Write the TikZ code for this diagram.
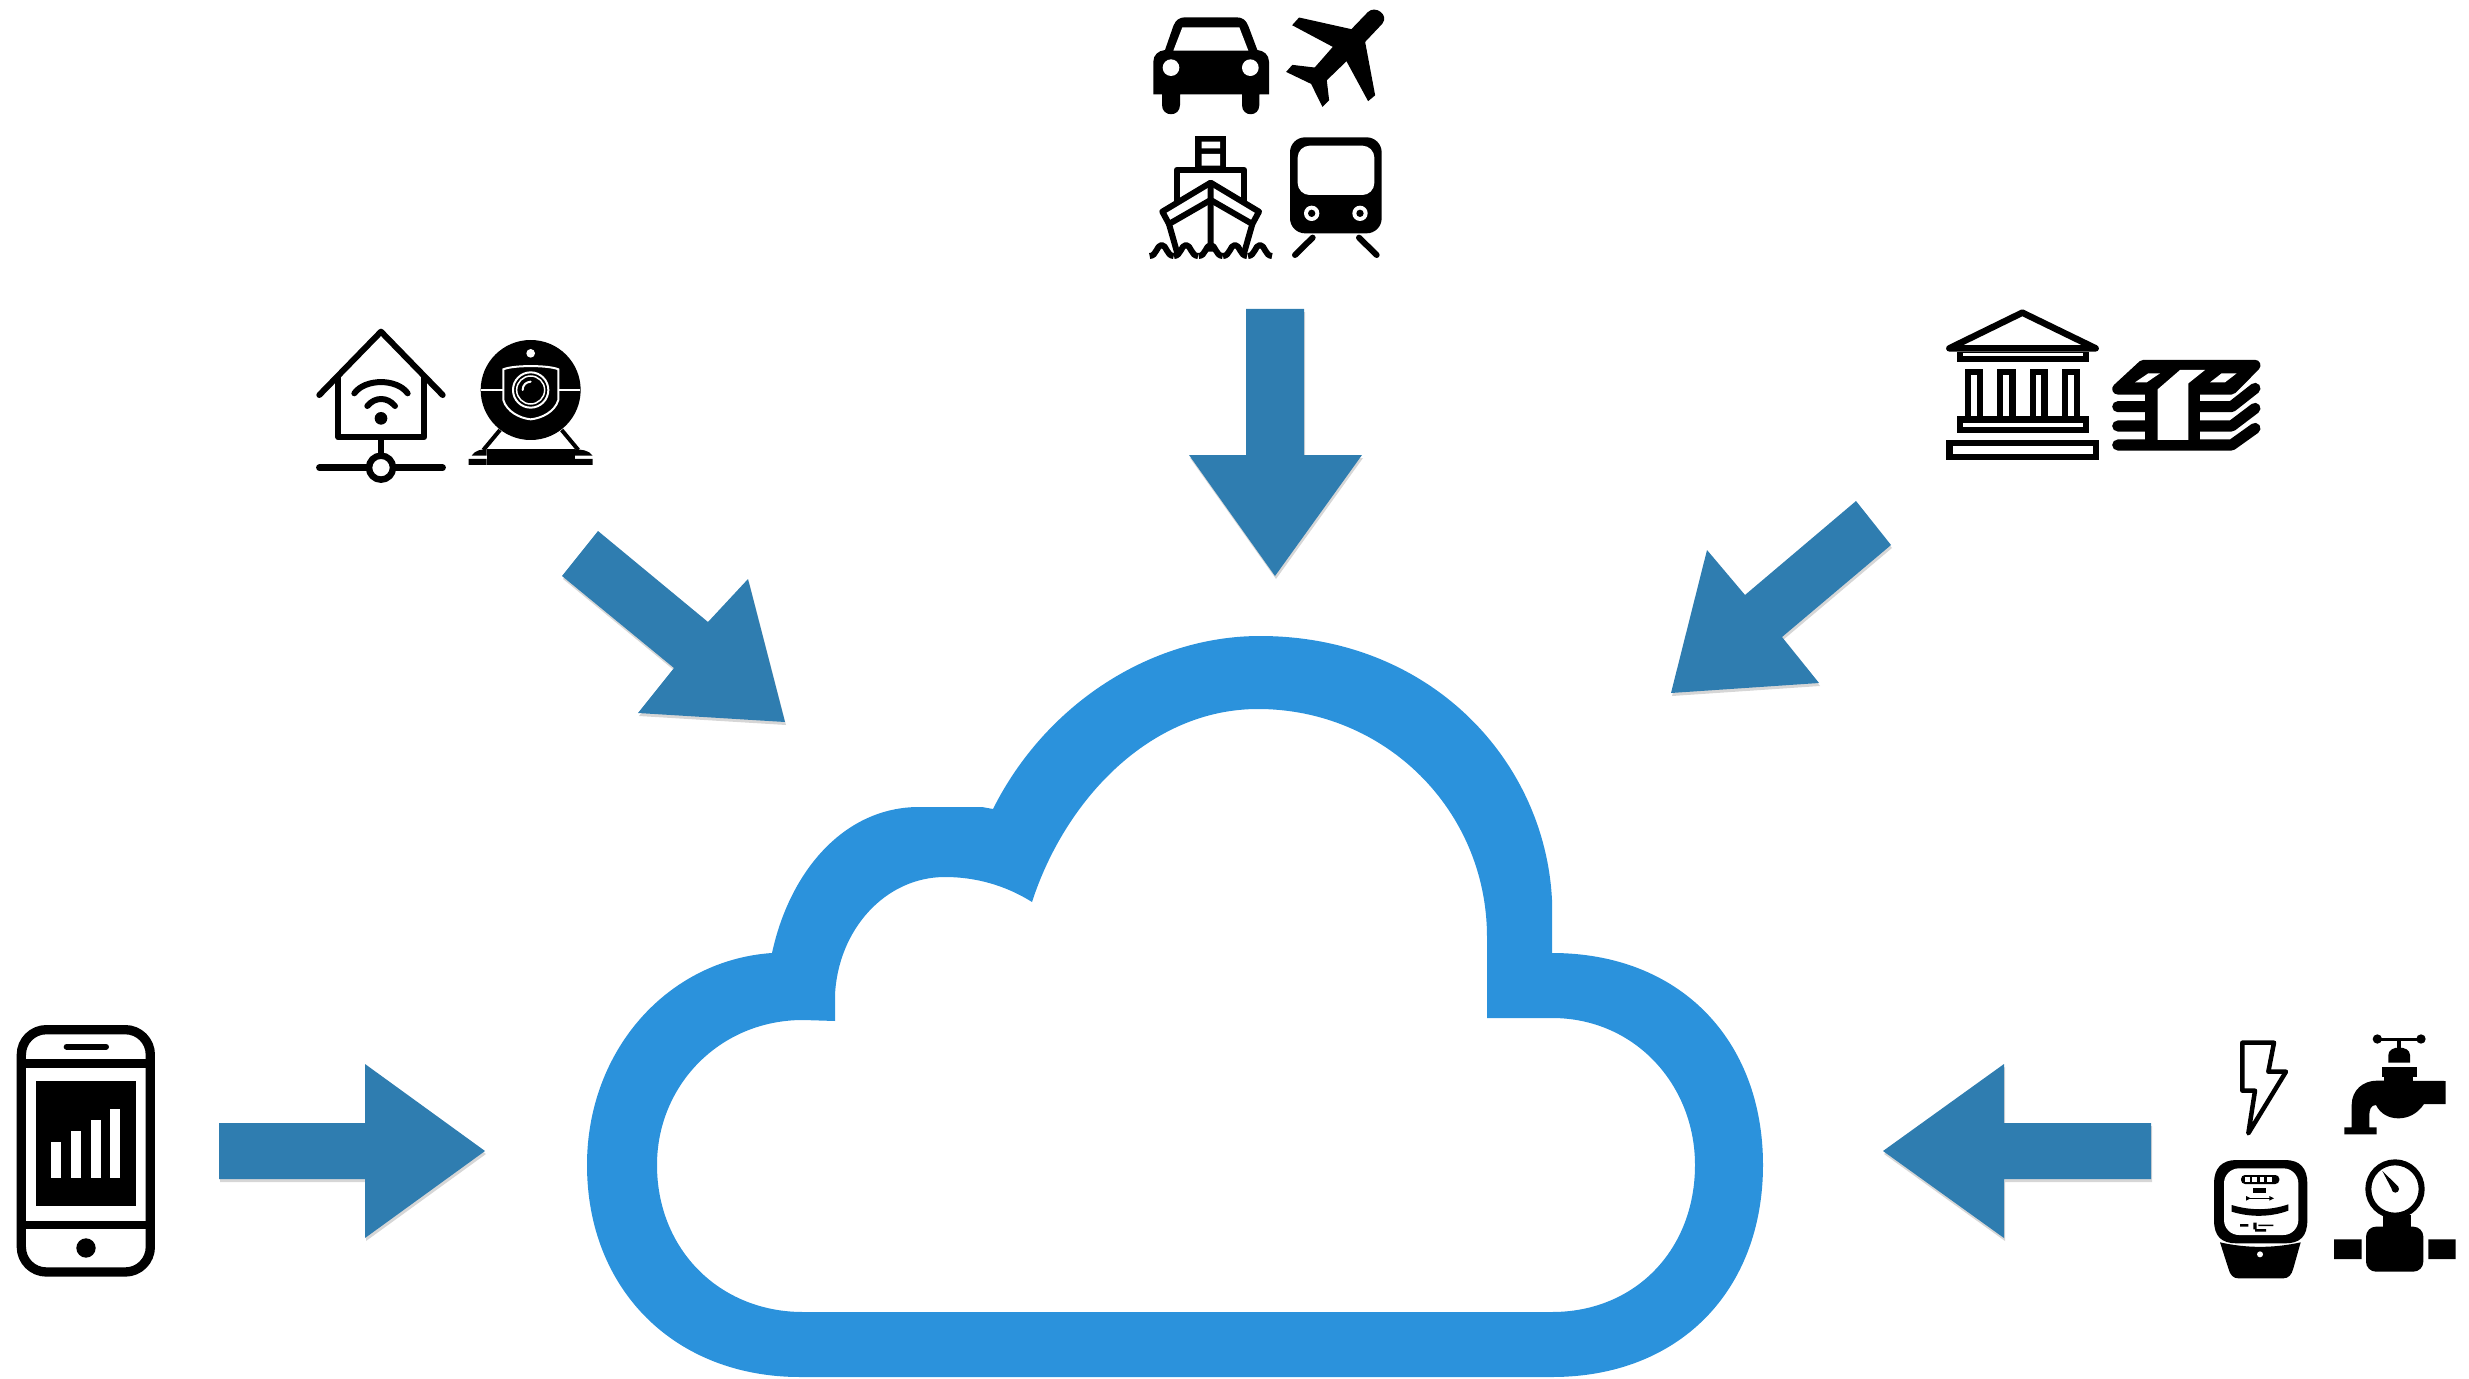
\documentclass[tikz,border=0pt]{standalone}
\usepackage{xcolor}
\definecolor{cloudblue}{HTML}{2B92DC}
\definecolor{arrowblue}{HTML}{2F7DB0}
\usepackage{tikz}
\usetikzlibrary{shadows}

\begin{document}
\begin{tikzpicture}[
      x=0.01cm, y=-0.01cm,
      cld/.style={fill=cloudblue, even odd rule},
      arw/.style={fill=arrowblue, drop shadow={shadow xshift=0.01cm, shadow yshift=-0.03cm, opacity=0.16, fill=black}},
      blk/.style={fill=black},
      wht/.style={fill=white},
      ln/.style={draw=black, line join=round, line width=#1},
      ln/.default=0.06cm,
      wl/.style={draw=white, line width=#1},
      wl/.default=0.02cm,
      icon/.style={shift={#1}, scale=1/3},
    ]
    \useasboundingbox (0,0) rectangle (2469,1379);

    \path[cld] (772,953) .. controls (668,960) and (587,1050) .. (587,1165)
      .. controls (587,1290) and (675,1377) .. (800,1377) -- (1552,1377)
      .. controls (1680,1377) and (1763,1290) .. (1763,1165)
      .. controls (1763,1040) and (1680,953) .. (1552,953) -- (1552,900)
      .. controls (1545,760) and (1430,636) .. (1260,636)
      .. controls (1150,636) and (1045,705) .. (993,809) -- (982,807) -- (919,807)
      .. controls (845,807) and (790,870) .. (772,953) -- cycle
      (835,1021) -- (835,995) .. controls (838,930) and (885,877) .. (945,877)
      .. controls (975,877) and (1005,885) .. (1032,902)
      .. controls (1065,800) and (1150,709) .. (1258,709)
      .. controls (1385,709) and (1487,810) .. (1487,937) -- (1487,1018) -- (1552,1018)
      .. controls (1635,1018) and (1695,1085) .. (1695,1165)
      .. controls (1695,1250) and (1635,1312) .. (1552,1312) -- (803,1312)
      .. controls (720,1312) and (657,1250) .. (657,1165)
      .. controls (657,1085) and (720,1020) .. (803,1020) -- cycle;

    \path[arw] (1246,309) -- (1304,309) -- (1304,455) -- (1362,455) -- (1275,576) -- (1189,455) -- (1246,455) -- cycle;
    \path[arw] (219,1123) -- (365,1123) -- (365,1064) -- (485,1151) -- (365,1238) -- (365,1179) -- (219,1179) -- cycle;
    \path[arw] (2151,1123) -- (2004,1123) -- (2004,1064) -- (1883,1151) -- (2004,1238) -- (2004,1179) -- (2151,1179) -- cycle;
    \path[arw] (598,531) -- (562,576) -- (674,668) -- (638,713) -- (785,722) -- (748,579) -- (708,622) -- cycle;
    \path[arw] (1856,501) -- (1891,545) -- (1782,637) -- (1819,683) -- (1671,693) -- (1707,550) -- (1745,595) -- cycle;

    \begin{scope}[icon={(1120,0)}]
      \path[blk] (100,283) -- (100,185) .. controls (100,165) and (115,152) .. (135,150) -- (160,78)
        .. controls (167,60) and (178,52) .. (195,52) -- (350,52) .. controls (367,52) and (378,60) .. (385,78)
        -- (412,150) .. controls (432,152) and (447,165) .. (447,185) -- (447,283) -- (418,283) -- (418,315)
        .. controls (418,352) and (366,352) .. (366,315) -- (366,283) -- (180,283) -- (180,315)
        .. controls (180,352) and (126,352) .. (126,315) -- (126,283) -- cycle;
      \path[wht] (160,152) -- (187,82) -- (358,82) -- (385,152) -- cycle;
      \foreach \cx in {153,391} \path[wht] (\cx,203) circle (25);

      \path[blk, draw=black, line width=0.015cm] (745,38) .. controls (765,18) and (805,45) .. (785,70) -- (733,125) -- (763,285) -- (745,300)
        -- (680,180) -- (618,240) -- (625,300) -- (608,317) -- (575,250) -- (502,215) -- (518,197)
        -- (585,205) -- (642,140) -- (520,75) -- (538,55) -- (695,90) -- cycle;

      \path[blk] (226,408) rectangle (318,500);
      \path[wht] (245,425) rectangle (300,445) (245,462) rectangle (300,497);
      \draw[ln] (171,610) -- (171,509) -- (372,509) -- (372,610);
      \draw[ln, fill=white] (272,548) -- (127,635) -- (147,672) -- (272,600) -- (397,672) -- (417,635) -- cycle;
      \draw[ln] (272,548) -- (272,755) (147,672) -- (172,760) (397,672) -- (372,760);
      \foreach \wx in {125,198,272,345,420}
        \draw[ln] (\wx-36,768) .. controls (\wx-15,768) and (\wx-15,735) .. (\wx,735) .. controls (\wx+15,735) and (\wx+15,768) .. (\wx+36,768);

      \path[blk, rounded corners=0.15cm] (510,412) rectangle (785,700);
      \path[wht, rounded corners=0.12cm] (533,437) rectangle (763,585);
      \foreach \cx in {575,720} {
        \path[wht] (\cx,640) circle (23);
        \path[blk] (\cx,640) circle (11);
      }
      \draw[ln, line cap=round] (525,765) -- (578,713) (770,765) -- (717,713);
    \end{scope}

    \begin{scope}[icon={(300,310)}]
      \draw[ln, line cap=round] (58,255) -- (243,65) -- (428,255);
      \draw[ln] (115,195) -- (115,382) -- (372,382) -- (372,195);
      \draw[ln] (243,382) -- (243,435);
      \draw[ln=0.065cm, line cap=round] (58,473) -- (207,473) (279,473) -- (428,473);
      \draw[ln=0.065cm, fill=white] (243,473) circle (36);
      \draw[ln, line cap=round] (163,250) .. controls (195,205) and (291,205) .. (323,250);
      \draw[ln, line cap=round] (202,288) .. controls (225,260) and (262,260) .. (285,288);
      \path[blk] (243,325) circle (19);

      \path[blk] (692,240) circle (150);
      \path[wht] (692,130) circle (13);
      \draw[wl] (543,240) -- (610,240) (775,240) -- (841,240);
      \draw[wl] (610,178) .. controls (640,165) and (745,165) .. (775,178) -- (775,270)
        .. controls (765,305) and (725,325) .. (692,328) .. controls (660,325) and (620,305) .. (610,270) -- cycle;
      \draw[wl] (692,240) circle (53);
      \draw[wl, line width=0.015cm] (692,240) circle (42);
      \draw[wl, line cap=round] (668,240) .. controls (668,225) and (678,216) .. (692,215);
      \draw[ln=0.04cm] (600,360) -- (550,420) (785,360) -- (835,420);
      \path[blk] (560,418) rectangle (825,465);
      \path[blk] (515,437) .. controls (525,420) and (545,418) .. (560,418) -- (560,437) -- cycle;
      \path[blk] (878,437) .. controls (868,420) and (840,418) .. (825,418) -- (825,437) -- cycle;
      \path[blk] (506,447) rectangle (560,465) (825,447) rectangle (878,465);
    \end{scope}

    \begin{scope}[icon={(1930,290)}]
      \draw[ln=0.065cm] (277,68) -- (58,175) -- (497,175) -- cycle;
      \path[blk] (80,185) rectangle (477,215);
      \path[wht] (98,188) rectangle (458,198);
      \foreach \cl/\cr in {105/160,200/257,300/353,395/450} {
        \path[blk] (\cl,237) rectangle (\cr,390);
        \path[wht] (\cl+19,255) rectangle (\cr-19,380);
      }
      \path[blk] (80,378) rectangle (477,430);
      \path[wht] (98,400) rectangle (458,410);
      \path[blk] (48,450) rectangle (507,510);
      \path[wht] (68,468) rectangle (488,492);

      \draw[ln=0.11cm, fill=black] (563,297) -- (640,226) -- (975,226) -- (905,297) -- cycle;
      \foreach \by/\ty in {350/295,408/355,465/415}
        \draw[ln=0.11cm, line cap=round] (563,\by) -- (905,\by) -- (975,\ty);
      \path[blk] (645,300) rectangle (810,450);
      \path[wht] (683,298) -- (750,240) -- (825,240) -- (775,280) -- (775,450) -- (683,450) -- cycle;
      \path[wht] (615,277) -- (655,250) -- (690,250) -- (650,277) -- cycle;
      \path[wht] (840,277) -- (875,250) -- (920,250) -- (885,277) -- cycle;
    \end{scope}

    \begin{scope}[icon={(0,1010)}]
      \draw[ln=0.093cm, rounded corners=0.25cm] (64,59) rectangle (451,786);
      \draw[ln=0.087cm] (64,160) -- (451,160) (64,645) -- (451,645);
      \draw[ln=0.06cm, line cap=round] (200,110) -- (318,110);
      \path[blk] (108,214) rectangle (407,588);
      \foreach \bl/\bt in {154/395,213/363,272/330,331/298}
        \path[wht] (\bl,\bt) rectangle (\bl+30,505);
      \path[blk] (258,714) circle (29);
    \end{scope}

    \begin{scope}[icon={(2200,1020)}]
      \draw[ln=0.045cm] (127,68) -- (222,68) -- (205,155) -- (258,155) -- (145,340) -- (165,212) -- (127,212) -- cycle;

      \draw[ln=0.03cm] (530,57) -- (665,57);
      \foreach \cx in {532,663} \path[blk] (\cx,57) circle (14);
      \path[blk] (590,57) rectangle (604,90);
      \path[blk] (565,128) -- (565,105) .. controls (565,75) and (630,75) .. (630,105) -- (630,128) -- cycle;
      \path[blk] (545,140) rectangle (652,170);
      \path[blk] (553,165) rectangle (640,190);
      \path[blk] (737,183) -- (737,252) -- (672,252) .. controls (650,285) and (620,295) .. (595,295)
        .. controls (565,295) and (540,280) .. (528,255) .. controls (512,255) and (508,270) .. (508,285)
        -- (508,322) -- (530,322) -- (530,343) -- (433,343) -- (433,322) -- (455,322) -- (455,255)
        .. controls (455,210) and (490,182) .. (530,182) -- cycle;

      \path[blk] (110,420) -- (255,420) .. controls (300,420) and (322,445) .. (322,490) -- (322,600)
        .. controls (322,650) and (300,670) .. (255,670) -- (110,670) .. controls (65,670) and (42,650) .. (42,600)
        -- (42,490) .. controls (42,445) and (65,420) .. (110,420) -- cycle;
      \path[wht, rounded corners=0.15cm] (72,445) rectangle (295,645);
      \path[blk, rounded corners=0.04cm] (123,465) rectangle (238,492);
      \foreach \sx in {135,157,179,201} \path[wht] (\sx,472) rectangle (\sx+14,486);
      \path[blk] (160,505) rectangle (198,518);
      \draw[ln=0.007cm] (140,535) -- (220,535);
      \path[blk] (138,528) -- (152,535) -- (138,542) -- cycle (222,535) -- (208,528) -- (208,542) -- cycle;
      \path[blk] (95,555) .. controls (150,572) and (210,572) .. (265,553) -- (265,572)
        .. controls (210,592) and (150,592) .. (95,575) -- cycle;
      \path[wht] (170,552) -- (190,552) -- (180,568) -- cycle;
      \path[blk] (120,612) rectangle (145,620) (160,608) rectangle (170,628) (175,614) rectangle (220,618) (165,627) rectangle (198,635);
      \path[blk] (60,667) .. controls (140,685) and (220,685) .. (302,667) -- (280,745)
        .. controls (275,765) and (265,775) .. (250,775) -- (115,775) .. controls (100,775) and (90,765) .. (85,745) -- cycle;
      \path[wht] (180,703) circle (9);

      \draw[ln, fill=white] (585,507) circle (80);
      \path[blk] (547,453) -- (595,500) -- (578,512) -- cycle;
      \path[blk] (586,507) circle (11);
      \path[blk] (550,585) rectangle (632,625);
      \path[blk, rounded corners=0.1cm] (498,620) rectangle (670,755);
      \path[blk] (402,658) rectangle (485,717) (685,658) rectangle (767,717);
    \end{scope}
  \end{tikzpicture}
\end{document}
